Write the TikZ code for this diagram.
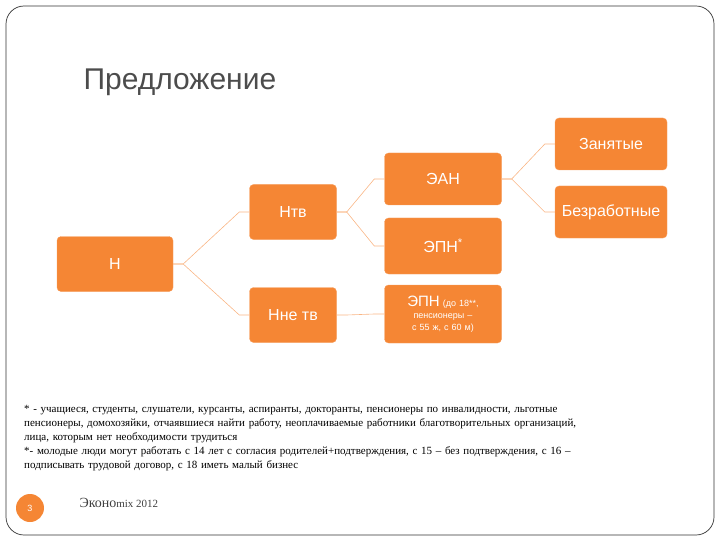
\documentclass[tikz,border=0pt]{standalone}
\usepackage{fontspec}
\usetikzlibrary{calc}
\setmainfont{Liberation Serif}
\newfontfamily\sansf{Liberation Sans}
\begin{document}
\begin{tikzpicture}[x=1pt,y=-1pt,
  box/.style={fill=or,draw=or!80!white,rounded corners=4pt,text=white,font=\sansf\fontsize{16}{18}\selectfont,align=center,inner sep=2pt},
  conn/.style={draw=or!60!white,line width=0.6pt}]
\definecolor{or}{HTML}{F58634}
\useasboundingbox (0,0) rectangle (720,540);
\draw[line width=0.7pt, black!80, rounded corners=18pt] (6,6) rectangle (714,535);
\node[anchor=west,text=black!70,font=\sansf\fontsize{30}{34}\selectfont] (title) at (80,82) {Предложение};
\node[box,minimum width=116pt,minimum height=55pt] (n) at (115,264) {Н};
\node[box,minimum width=87pt,minimum height=55pt] (ntv) at (293,212) {Нтв};
\node[box,minimum width=87pt,minimum height=55pt] (nnetv) at (293,315) {Нне тв};
\node[box,minimum width=117pt,minimum height=52pt] (ean) at (443,179) {ЭАН};
\node[box,minimum width=117pt,minimum height=56pt] (epn) at (443,246) {ЭПН\textsuperscript{*}};
\node[box,minimum width=117pt,minimum height=58pt,text width=100pt,font=\sansf\fontsize{9}{12}\selectfont] (epn2) at (443,314) {{\fontsize{15}{16}\selectfont ЭПН} (до 18**, пенсионеры – с 55 ж, с 60 м)};
\node[box,minimum width=112pt,minimum height=52pt] (zan) at (611,144) {Занятые};
\node[box,minimum width=112pt,minimum height=52pt] (bez) at (611,212) {Безработные};
\foreach \a/\b in {n/ntv,n/nnetv,ntv/ean,ntv/epn,nnetv/epn2,ean/zan,ean/bez}{
  \draw[conn] (\a.east) -- ++(10,0) -- ($(\b.west)+(-10,0)$) -- (\b.west);
}
\node[anchor=north west,text width=660pt,align=left,font=\fontsize{11}{14}\selectfont,inner sep=0pt] (fn) at (24,405) {* - учащиеся, студенты, слушатели, курсанты, аспиранты, докторанты, пенсионеры по инвалидности, льготные\\ пенсионеры, домохозяйки, отчаявшиеся найти работу, неоплачиваемые работники благотворительных организаций,\\ лица, которым нет необходимости трудиться\\
**- молодые люди могут работать с 14 лет с согласия родителей+подтверждения, с 15 – без подтверждения, с 16 –\\ подписывать трудовой договор, с 18 иметь малый бизнес};
\node[circle,fill=or,minimum size=28pt,text=white,font=\sansf\small,inner sep=0pt] (num) at (30,508) {3};
\node[anchor=west,text=black!75,font=\fontsize{14}{16}\selectfont] (eco) at (76,503) {Эконо{\fontsize{11}{12}\selectfont mix 2012}};
\end{tikzpicture}
\end{document}
